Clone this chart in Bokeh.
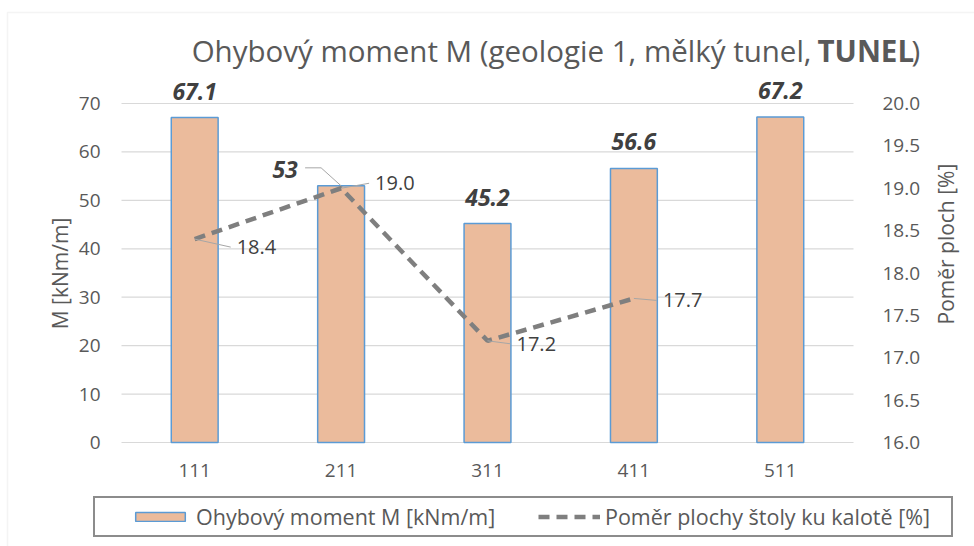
from bokeh.plotting import figure
from bokeh.models import (Range1d, LinearAxis, FixedTicker, ColumnDataSource, LabelSet,
                          Label, Legend, LegendItem, PrintfTickFormatter, BoxAnnotation)
from bokeh.core.properties import value
from bokeh.embed import file_html
from bokeh.resources import INLINE
import math

# ---------------- data ----------------
categories = ["111", "211", "311", "411", "511"]
moment = [67.1, 53, 45.2, 56.6, 67.2]              # Ohybový moment M [kNm/m]
ratio = [18.4, 19.0, 17.2, 17.7, float("nan")]      # Poměr plochy štoly ku kalotě [%]
left_ticks = [0, 10, 20, 30, 40, 50, 60, 70]
right_ticks = [16.0, 16.5, 17.0, 17.5, 18.0, 18.5, 19.0, 19.5, 20.0]

title_main = "Ohybový moment M (geologie 1, mělký tunel,"
title_bold = "TUNEL"
title_end = ")"
bar_name = "Ohybový moment M [kNm/m]"
line_name = "Poměr plochy štoly ku kalotě [%]"
left_label = "M [kNm/m]"
right_label = "Poměr ploch [%]"

# ---------------- layout (pixels on the canvas) ----------------
W, H = 974, 546
PL, PR, PT, PB = 123, 855, 103, 442        # plot area: left, right, top, bottom
px_x = (PR - PL) / len(categories)
px_yl = (PB - PT) / (left_ticks[-1] - left_ticks[0])
px_yr = (PB - PT) / (right_ticks[-1] - right_ticks[0])
pad = (W / px_x - len(categories)) / 2     # factor-range padding so that the frame fills the canvas

FONT = "Open Sans"
GREY_TXT = "#595959"
DARK_TXT = "#404040"

y_left = Range1d(left_ticks[0] - (H - PB) / px_yl, left_ticks[-1] + PT / px_yl)
y_right = Range1d(right_ticks[0] - (H - PB) / px_yr, right_ticks[-1] + PT / px_yr)

p = figure(x_range=categories, y_range=y_left, width=W, height=H,
           output_backend="svg", toolbar_location=None, min_border=0)
p.title.visible = False
p.outline_line_color = None
p.x_range.range_padding = pad
p.x_range.range_padding_units = "absolute"
p.extra_y_ranges = {"right": y_right}

# outer (light) chart border
p.add_layout(BoxAnnotation(left=7, right=W + 20, top=H - 12, bottom=-20,
                           left_units="screen", right_units="screen",
                           top_units="screen", bottom_units="screen",
                           fill_alpha=0, line_color="#D9D9D9", line_width=1.5))

# gridlines only across the plot area
grid_src = ColumnDataSource(dict(y=left_ticks, x0=[0] * len(left_ticks),
                                 x1=[len(categories)] * len(left_ticks)))
p.xgrid.grid_line_color = None
p.ygrid.grid_line_color = None
p.segment(x0="x0", x1="x1", y0="y", y1="y", source=grid_src,
          line_color="#D9D9D9", line_width=1.2)

# bars
src = ColumnDataSource(dict(cat=categories, m=moment, r=ratio,
                            mlab=[f"{v:g}" for v in moment],
                            rlab=["" if math.isnan(v) else f"{v:.1f}" for v in ratio]))
bars = p.vbar(x="cat", top="m", width=0.32, source=src, fill_color="#EBBB9C",
              line_color="#5B9BD5", line_width=1.5)

# line (right axis)
line = p.line(x="cat", y="r", source=src, y_range_name="right", line_color="#7F7F7F",
              line_width=4.5, line_dash="11 7", line_cap="butt")

# axes, pinned to the edges of the plot area
yl = p.yaxis[0]
yl.ticker = FixedTicker(ticks=left_ticks)
yl.fixed_location = 0
xa = p.xaxis[0]
xa.fixed_location = left_ticks[0]
yr = LinearAxis(y_range_name="right", ticker=FixedTicker(ticks=right_ticks),
                formatter=PrintfTickFormatter(format="%.1f"), fixed_location=len(categories))
p.add_layout(yr, "right")
yl.axis_label = left_label
yr.axis_label = right_label
if "axis_label_orientation" in yr.properties():
    yr.axis_label_orientation = math.pi / 2
    # the rotated title starts at the middle of the axis bounds: move that point down
    yr.bounds = (14.76, right_ticks[-1] + 0.01)

for ax in [yl, yr, xa]:
    ax.axis_line_color = None
    ax.major_tick_line_color = None
    ax.minor_tick_line_color = None
    ax.major_label_text_font = FONT
    ax.major_label_text_font_size = "19px"
    ax.major_label_text_color = GREY_TXT
    ax.axis_label_text_font = FONT
    ax.axis_label_text_font_size = "21px"
    ax.axis_label_text_font_style = "normal"
    ax.axis_label_text_color = GREY_TXT
yl.major_label_standoff = 15
yr.major_label_standoff = 23
xa.major_label_standoff = 15
yl.axis_label_standoff = 2
yr.axis_label_standoff = 23

# ---------------- data labels ----------------
bar_nudge = {"211": (-56, 8)}
src.data["bxo"] = [bar_nudge.get(c, (0, 18))[0] for c in categories]
src.data["byo"] = [bar_nudge.get(c, (0, 18))[1] for c in categories]
p.add_layout(LabelSet(x="cat", y="m", text="mlab", source=src, x_offset="bxo", y_offset="byo",
                      text_align="center", text_baseline="alphabetic", text_font=value(FONT),
                      text_font_size="23px", text_font_style="bold italic", text_color=DARK_TXT))

line_nudge = {"111": (42, -8), "211": (34, 5), "311": (29, -3), "411": (29, -2)}
src.data["lxo"] = [line_nudge.get(c, (0, 0))[0] for c in categories]
src.data["lyo"] = [line_nudge.get(c, (0, 0))[1] for c in categories]
p.add_layout(LabelSet(x="cat", y="r", text="rlab", source=src, y_range_name="right",
                      x_offset="lxo", y_offset="lyo", text_align="left", text_baseline="middle",
                      text_font=value(FONT), text_font_size="20px", text_color=DARK_TXT))

# leader lines (from the data point towards its label)
lx, ly = [], []
for i, c in enumerate(categories):
    v = ratio[i]
    if math.isnan(v) or c not in line_nudge:
        continue
    dx, dy = line_nudge[c]
    x0 = i + 0.5
    lx.append([x0, x0 + (dx - 6) / px_x])
    ly.append([v, v + dy / px_yr])
p.multi_line(xs=lx, ys=ly, y_range_name="right", line_color="#A6A6A6", line_width=1)

for i, c in enumerate(categories):
    if c in bar_nudge:
        dx, dy = bar_nudge[c]
        x0 = i + 0.5
        p.line(x=[x0, x0 - 20 / px_x, x0 + (dx + 20) / px_x],
               y=[moment[i], moment[i] + (dy + 10) / px_yl, moment[i] + (dy + 10) / px_yl],
               line_color="#A6A6A6", line_width=1)

# ---------------- title (mixed weight), canvas pixels ----------------
TITLE_SIZE = "29.5px"
TITLE_BASE = H - 50
for txt, xp, align, style in [(title_main, 811, "right", "normal"),
                              (title_bold, 817, "left", "bold"),
                              (title_end, 911, "left", "normal")]:
    p.add_layout(Label(x=xp, y=TITLE_BASE, x_units="screen", y_units="screen", text=txt,
                       text_align=align, text_baseline="alphabetic", text_font=FONT,
                       text_font_size=TITLE_SIZE, text_font_style=style, text_color=GREY_TXT))

# ---------------- legend ----------------
legend = Legend(items=[LegendItem(label=bar_name, renderers=[bars]),
                       LegendItem(label=line_name, renderers=[line])],
                orientation="horizontal", location=(93, 9),
                title=" ", title_location="left", title_standoff=29,
                title_text_font_size="1px",
                glyph_width=62, glyph_height=11, label_standoff=5, label_width=342,
                label_height=22, spacing=0, padding=4, margin=0,
                label_text_font=FONT, label_text_font_size="21.5px", label_text_color=GREY_TXT,
                border_line_color="#1A1A1A", border_line_width=2,
                background_fill_color="white", background_fill_alpha=1)
p.add_layout(legend, "center")

open("out.html", "w").write(file_html(p, INLINE))
